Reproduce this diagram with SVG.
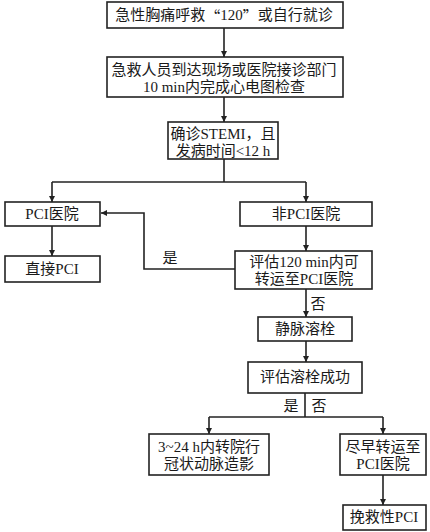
<svg xmlns="http://www.w3.org/2000/svg" width="430" height="532" viewBox="0 0 430 532">
<style>
.box{fill:#fff;stroke:#222;stroke-width:1.6}
.t{font-family:"Liberation Serif","Noto Sans CJK SC",serif;font-size:15px;fill:#1a1a1a;text-anchor:middle;dominant-baseline:central}
.q{font-family:"Noto Sans CJK SC",sans-serif}
.c{fill:none;stroke:#222;stroke-width:1.6}
</style>
<defs>
<marker id="ah" viewBox="0 0 10 10" refX="10" refY="5" markerWidth="6" markerHeight="6" orient="auto" markerUnits="userSpaceOnUse">
<path d="M0,0 L10,5 L0,10 z" fill="#222"/>
</marker>
</defs>
<rect width="430" height="532" fill="#fff"/>
<g id="connectors">
<path class="c" d="M224,28 V57" marker-end="url(#ah)"/>
<path class="c" d="M224,97 V122" marker-end="url(#ah)"/>
<path class="c" d="M224,159 V182"/>
<path class="c" d="M52,182 H306"/>
<path class="c" d="M52,182 V202" marker-end="url(#ah)"/>
<path class="c" d="M306,182 V202" marker-end="url(#ah)"/>
<path class="c" d="M52,226 V256" marker-end="url(#ah)"/>
<path class="c" d="M306,226 V251" marker-end="url(#ah)"/>
<path class="c" d="M235,269 H144 V213 H101" marker-end="url(#ah)"/>
<path class="c" d="M306,289 V317" marker-end="url(#ah)"/>
<path class="c" d="M306,341 V362" marker-end="url(#ah)"/>
<path class="c" d="M305,393 V417"/>
<path class="c" d="M209,417 H383"/>
<path class="c" d="M209,417 V434" marker-end="url(#ah)"/>
<path class="c" d="M383,417 V434" marker-end="url(#ah)"/>
<path class="c" d="M383,475 V505" marker-end="url(#ah)"/>
<text class="t" x="170" y="258">是</text>
<text class="t" x="318" y="304">否</text>
<text class="t" x="291" y="406">是</text>
<text class="t" x="319" y="406">否</text>
</g>
<g id="n1"><rect class="box" x="107" y="2" width="236" height="26"/><text class="t" x="224" y="15">急性胸痛呼救<tspan class="q">“</tspan>120<tspan class="q">”</tspan>或自行就诊</text></g>
<g id="n2"><rect class="box" x="107" y="57" width="236" height="40"/><text class="t" x="224" y="70">急救人员到达现场或医院接诊部门<tspan x="224" dy="17">10 min内完成心电图检查</tspan></text></g>
<g id="n3"><rect class="box" x="168" y="122" width="110" height="37"/><text class="t" x="223" y="134">确诊STEMI，且<tspan x="223" dy="17">发病时间&lt;12 h</tspan></text></g>
<g id="n4"><rect class="box" x="5" y="202" width="95" height="24"/><text class="t" x="52" y="214">PCI医院</text></g>
<g id="n5"><rect class="box" x="240" y="202" width="132" height="24"/><text class="t" x="306" y="214">非PCI医院</text></g>
<g id="n6"><rect class="box" x="5" y="256" width="95" height="26"/><text class="t" x="52" y="269">直接PCI</text></g>
<g id="n7"><rect class="box" x="235" y="251" width="137" height="38"/><text class="t" x="304" y="261.5">评估120 min内可<tspan x="304" dy="17">转运至PCI医院</tspan></text></g>
<g id="n8"><rect class="box" x="258" y="317" width="94" height="24"/><text class="t" x="305" y="329">静脉溶栓</text></g>
<g id="n9"><rect class="box" x="248" y="362" width="114" height="31"/><text class="t" x="305" y="377">评估溶栓成功</text></g>
<g id="n10"><rect class="box" x="149" y="434" width="120" height="41"/><text class="t" x="209" y="447">3~24 h内转院行<tspan x="209" dy="17">冠状动脉造影</tspan></text></g>
<g id="n11"><rect class="box" x="340" y="434" width="86" height="41"/><text class="t" x="383" y="447">尽早转运至<tspan x="383" dy="17">PCI医院</tspan></text></g>
<g id="n12"><rect class="box" x="343" y="505" width="83" height="25"/><text class="t" x="384" y="517">挽救性PCI</text></g>
</svg>
